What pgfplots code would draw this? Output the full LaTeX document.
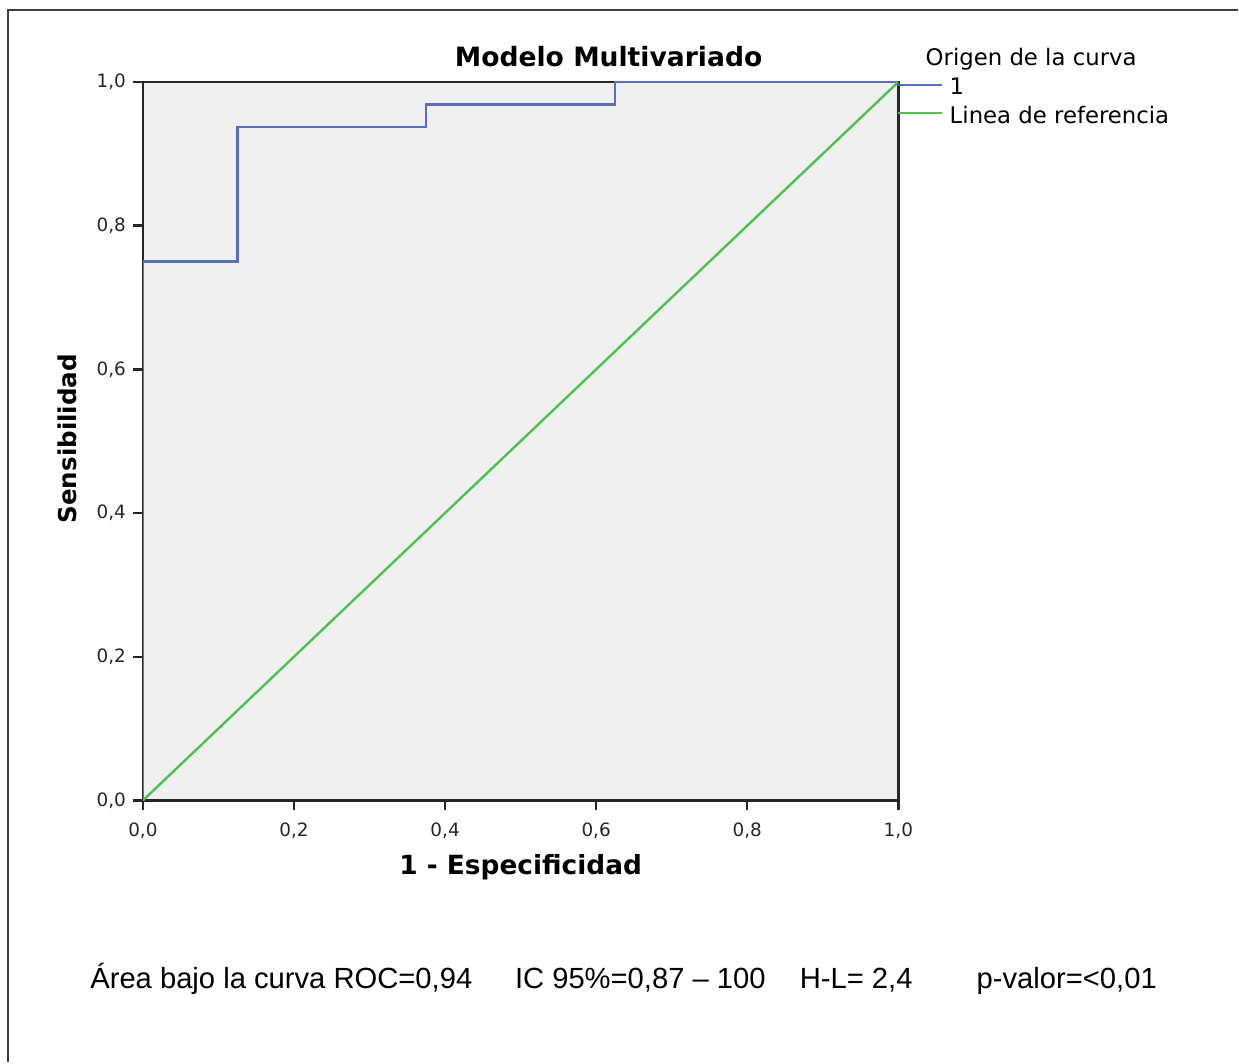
\documentclass[border=0pt]{standalone}
\usepackage{pgfplots}
\pgfplotsset{compat=1.18}
\usepackage{fontspec}
\setmainfont{DejaVu Sans}
\newfontfamily\arialf{Liberation Sans}
\definecolor{rocblue}{RGB}{90,110,190}
\definecolor{refgreen}{RGB}{76,196,76}
\definecolor{bgray}{RGB}{240,240,240}
\begin{document}
\begin{tikzpicture}[x=0.5pt,y=0.5pt]
\path (0,0) rectangle (1239,1063);
\draw[line width=0.9pt, black!75] (8,0) -- (8,1053) -- (1239,1053);
\begin{axis}[
  at={(71.5pt,131pt)}, anchor=south west,
  scale only axis, width=378pt, height=359.5pt,
  xmin=0, xmax=1, ymin=0, ymax=1,
  axis background/.style={fill=bgray},
  axis line style={line width=1.2pt, black!85},
  tick style={line width=1.2pt, black!85},
  tick align=outside, major tick length=5pt,
  xtick={0,0.2,0.4,0.6,0.8,1}, ytick={0,0.2,0.4,0.6,0.8,1},
  xtick pos=left, ytick pos=left,
  tick label style={font=\fontsize{9.2}{10}\selectfont, text=black!85},
  xticklabel style={yshift=-2.5pt},
  /pgf/number format/.cd, use comma, fixed, fixed zerofill, precision=1, assume math mode=true,
]
\addplot[rocblue, line width=1.2pt] coordinates {(0,0)(0,0.75)(0.125,0.75)(0.125,0.9375)(0.375,0.9375)(0.375,0.96875)(0.625,0.96875)(0.625,1)(1,1)};
\addplot[refgreen, line width=1.2pt] coordinates {(0,0)(1,1)};
\end{axis}
\node[font=\bfseries\fontsize{13.3}{15}\selectfont] at (609,1006) {Modelo Multivariado};
\node[rotate=90, font=\bfseries\fontsize{12.3}{14}\selectfont] at (67,624) {Sensibilidad};
\node[font=\bfseries\fontsize{13.2}{15}\selectfont] at (521,195) {1 - Especificidad};
\begin{scope}[font=\fontsize{11.4}{13}\selectfont]
\node[anchor=west, inner sep=0] at (926,1004) {Origen de la curva};
\draw[rocblue, line width=1.2pt] (899,978) -- (943,978);
\node[anchor=west, inner sep=0] at (950,977) {1};
\draw[refgreen, line width=1.2pt] (899,950) -- (943,950);
\node[anchor=west, inner sep=0] at (950,948) {Linea de referencia};
\end{scope}
\begin{scope}[font=\arialf\fontsize{14.6}{16}\selectfont]
\node[anchor=base west, inner sep=0] at (90,74) {Área bajo la curva ROC=0,94};
\node[anchor=base west, inner sep=0] at (515,74) {IC 95\%=0,87 – 100};
\node[anchor=base west, inner sep=0] at (800,74) {H-L= 2,4};
\node[anchor=base west, inner sep=0] at (977,74) {p-valor=<0,01};
\end{scope}
\end{tikzpicture}
\end{document}
